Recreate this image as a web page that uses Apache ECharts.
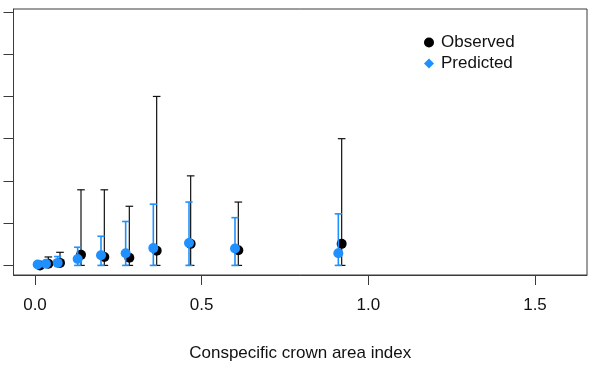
<!DOCTYPE html>
<html>
<head>
<meta charset="utf-8">
<script src="https://cdn.jsdelivr.net/npm/echarts@6/dist/echarts.min.js"></script>
<style>
  html, body { margin: 0; padding: 0; background: #fff; }
  #chart { width: 594px; height: 367px; }
</style>
</head>
<body>
<div id="chart"></div>
<script>
// Observed vs predicted values along the conspecific crown area index
const obsX     = [0.015, 0.040, 0.075, 0.138, 0.208, 0.283, 0.365, 0.467, 0.610, 0.920];
const obsY     = [0.00, 0.04, 0.06, 0.25, 0.20, 0.18, 0.35, 0.51, 0.36, 0.51];
const obsLower = [0, 0, 0, 0, 0, 0, 0, 0, 0, 0];
const obsUpper = [0.02, 0.20, 0.31, 1.79, 1.79, 1.40, 4.00, 2.12, 1.50, 3.00];

const predX     = [0.008, 0.033, 0.068, 0.128, 0.198, 0.272, 0.355, 0.462, 0.600, 0.910];
const predY     = [0.02, 0.04, 0.06, 0.15, 0.24, 0.29, 0.41, 0.53, 0.40, 0.29];
const predLower = [0, 0, 0, 0, 0, 0, 0, 0, 0, 0];
const predUpper = [0.03, 0.06, 0.21, 0.43, 0.69, 1.04, 1.45, 1.50, 1.13, 1.22];

const xTicks = [0, 0.5, 1.0, 1.5];
const yTicks = [0, 1, 2, 3, 4, 5, 6];

const zip = (...arrs) => arrs[0].map((_, i) => arrs.map(a => a[i]));

function errorBars(color, width, capHalf) {
  return function (params, api) {
    const x = api.value(0);
    const lo = api.coord([x, api.value(1)]);
    const hi = api.coord([x, api.value(2)]);
    const st = { stroke: color, lineWidth: width };
    return {
      type: 'group',
      children: [
        { type: 'line', shape: { x1: lo[0], y1: lo[1], x2: hi[0], y2: hi[1] }, style: st },
        { type: 'line', shape: { x1: hi[0] - capHalf, y1: hi[1], x2: hi[0] + capHalf, y2: hi[1] }, style: st },
        { type: 'line', shape: { x1: lo[0] - capHalf, y1: lo[1], x2: lo[0] + capHalf, y2: lo[1] }, style: st }
      ]
    };
  };
}

const chart = echarts.init(document.getElementById('chart'), null, { renderer: 'canvas' });
const font = 'Liberation Sans, Arial, sans-serif';

chart.setOption({
  animation: false,
  backgroundColor: '#fff',
  textStyle: { fontFamily: font },
  grid: {
    left: 13.5, right: 7, top: 9, bottom: 92,
    show: true, borderColor: '#3a3a3a', borderWidth: 1, containLabel: false
  },
  legend: {
    orient: 'vertical',
    left: 419, top: 29,
    itemWidth: 10, itemHeight: 10, itemGap: 4,
    textStyle: { fontSize: 17, color: '#111', fontFamily: font, padding: [0, 0, 0, 2] },
    data: [
      { name: 'Observed', icon: 'circle', itemStyle: { color: '#000' } },
      { name: 'Predicted', icon: 'diamond', itemStyle: { color: '#1E90FF' } }
    ]
  },
  xAxis: {
    type: 'value',
    min: -0.0645, max: 1.656,
    name: 'Conspecific crown area index',
    nameLocation: 'middle',
    nameGap: 70,
    nameTextStyle: { fontSize: 17, color: '#111', fontFamily: font },
    axisLine: { show: true, onZero: false, lineStyle: { color: '#3a3a3a', width: 1 } },
    axisTick: { show: true, length: 10, customValues: xTicks, lineStyle: { color: '#3a3a3a' } },
    axisLabel: {
      customValues: xTicks, margin: 22, fontSize: 17, color: '#111', fontFamily: font,
      formatter: v => v.toFixed(1)
    },
    splitLine: { show: false }
  },
  yAxis: {
    type: 'value',
    min: -0.227, max: 6.07,
    axisLine: { show: true, onZero: false, lineStyle: { color: '#3a3a3a', width: 1 } },
    axisTick: { show: true, length: 10, customValues: yTicks, lineStyle: { color: '#3a3a3a' } },
    axisLabel: { show: false },
    splitLine: { show: false }
  },
  series: [
    {
      name: 'obsBars', type: 'custom', z: 2,
      renderItem: errorBars('#111', 1.2, 3.8),
      encode: { x: 0, y: [1, 2] },
      data: zip(obsX, obsLower, obsUpper)
    },
    {
      name: 'Observed', type: 'scatter', z: 3,
      symbol: 'circle', symbolSize: 10,
      itemStyle: { color: '#000', opacity: 1 },
      data: zip(obsX, obsY)
    },
    {
      name: 'predBars', type: 'custom', z: 4,
      renderItem: errorBars('#1E90FF', 1.6, 3.6),
      encode: { x: 0, y: [1, 2] },
      data: zip(predX, predLower, predUpper)
    },
    {
      name: 'Predicted', type: 'scatter', z: 5,
      symbol: 'circle', symbolSize: 10,
      itemStyle: { color: '#1E90FF', opacity: 1 },
      data: zip(predX, predY)
    }
  ]
});
</script>
</body>
</html>
